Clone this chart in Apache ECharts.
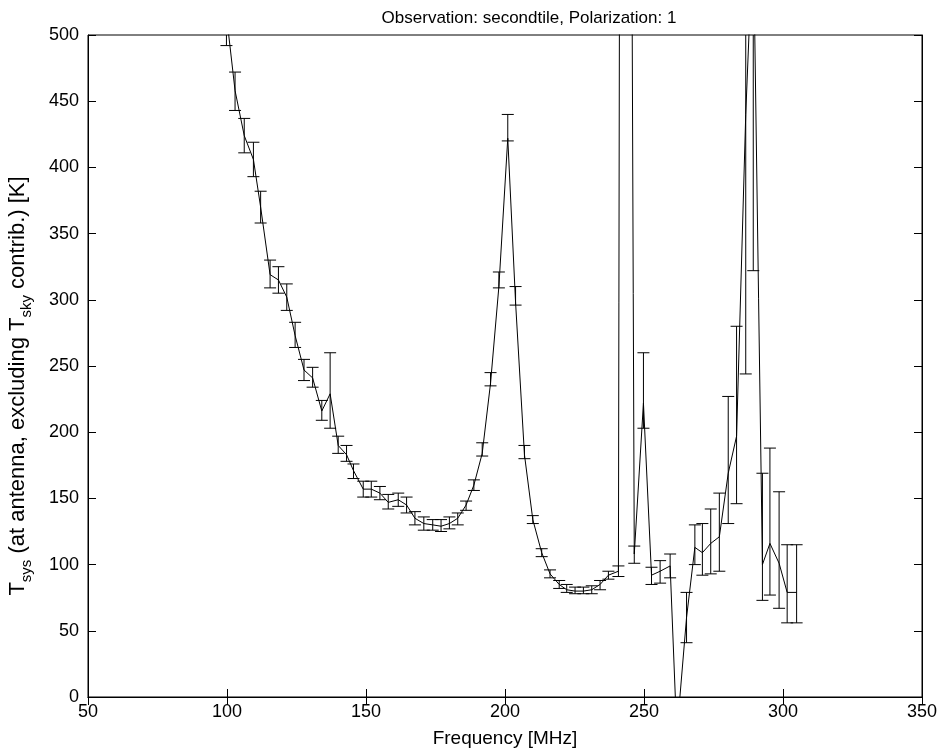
<!DOCTYPE html>
<html>
<head>
<meta charset="utf-8">
<script src="https://cdn.jsdelivr.net/npm/echarts@6/dist/echarts.min.js"></script>
<style>
html,body{margin:0;padding:0;background:#fff;}
#chart{width:943px;height:754px;}
</style>
</head>
<body>
<div id="chart"></div>
<script>
// Frequency channels [MHz]
var freq = [99.8, 102.9, 106.2, 109.5, 112.1, 115.5, 118.5, 121.5, 124.5, 127.7, 130.8, 134.1, 137.1, 140.0, 143.0, 145.5, 149.0, 151.9, 155.0, 158.0, 161.6, 164.6, 167.6, 170.8, 174.0, 177.0, 180.0, 183.0, 186.0, 188.8, 191.8, 194.8, 197.8, 201.0, 203.8, 207.0, 210.0, 213.2, 216.2, 219.5, 222.2, 225.2, 228.2, 231.2, 234.2, 237.2, 240.8, 242.6, 246.5, 249.8, 252.7, 255.8, 259.4, 261.8, 265.3, 268.3, 271.0, 274.0, 277.1, 280.3, 283.3, 286.6, 289.3, 292.6, 295.3, 298.6, 301.5, 304.9];
// Tsys values [K]
var tsys = [515, 458, 424, 406, 370, 319, 315, 302, 273, 247, 241, 216, 229, 190, 183, 171, 157, 157, 154, 147, 149, 145, 135, 131, 130, 129, 131, 135, 145, 160, 184, 237, 310, 422, 298, 183, 134, 109, 93, 85, 81, 80, 80, 81, 85, 92, 95, 2200, 108, 222, 92, 95, 99, -28, 60, 113, 109, 116, 121, 169, 197, 440, 580, 100, 116, 101, 79, 79];
// error bar lower ends [K]
var errLow = [492, 443, 411, 393, 358, 309, 305, 292, 264, 239, 234, 209, 203, 184, 178, 165, 151, 151, 149, 142, 144, 139, 130, 126, 126, 125, 127, 130, 141, 156, 182, 235, 309, 420, 296, 180, 131, 106, 90, 82, 79, 78, 78, 78, 81, 89, 91, 2000, 101, 203, 85, 86, 90, -40, 41, 100, 92, 93, 95, 131, 146, 244, 322, 73, 77, 67, 56, 56];
// error bar upper ends [K]
var errHigh = [540, 472, 437, 419, 382, 330, 325, 312, 283, 255, 249, 224, 260, 197, 190, 176, 163, 163, 159, 153, 154, 151, 140, 136, 134, 134, 136, 139, 148, 164, 192, 245, 321, 440, 310, 190, 137, 112, 96, 88, 85, 83, 83, 84, 88, 95, 99, 2400, 114, 260, 98, 103, 108, -15, 79, 130, 131, 142, 154, 227, 280, 636, 838, 169, 188, 155, 115, 115];

var xTicks = [50, 350, 50];   // min, max, step
var yTicks = [0, 500, 50];

var lineData = freq.map(function (f, i) { return [f, tsys[i]]; });
var errData = freq.map(function (f, i) { return [f, errLow[i], errHigh[i]]; });

var font = 'Liberation Sans, Arial, sans-serif';
var chart = echarts.init(document.getElementById('chart'), null, {renderer: 'canvas'});

var axisCommon = {
  axisLine: {show: true, lineStyle: {color: '#000', width: 1}},
  axisTick: {show: true, inside: true, length: 8, lineStyle: {color: '#000', width: 1}},
  splitLine: {show: false}
};

chart.setOption({
  animation: false,
  backgroundColor: '#fff',
  title: {
    text: 'Observation: secondtile, Polarization: 1',
    left: 524, top: 5, textAlign: 'center',
    textStyle: {fontFamily: font, fontSize: 17, fontWeight: 'normal', color: '#000'}
  },
  grid: {left: 88, right: 21, top: 35, bottom: 57, containLabel: false, outerBoundsMode: 'none',
         show: true, borderColor: '#000', borderWidth: 1, backgroundColor: '#fff'},
  xAxis: [
    Object.assign({
      type: 'value', min: xTicks[0], max: xTicks[1], interval: xTicks[2], position: 'bottom',
      name: 'Frequency [MHz]', nameLocation: 'middle', nameGap: 32,
      nameTextStyle: {fontFamily: font, fontSize: 19, color: '#000'},
      axisLabel: {fontFamily: font, fontSize: 18, color: '#000', margin: 6}
    }, axisCommon),
    Object.assign({
      type: 'value', min: xTicks[0], max: xTicks[1], interval: xTicks[2], position: 'top',
      axisLabel: {show: false}
    }, axisCommon)
  ],
  yAxis: [
    Object.assign({
      type: 'value', min: yTicks[0], max: yTicks[1], interval: yTicks[2], position: 'left',
      name: '{a|T}{s|sys}{a| (at antenna, excluding T}{s|sky}{a| contrib.) [K]}',
      nameLocation: 'middle', nameGap: 54, nameRotate: 90,
      nameTextStyle: {
        fontFamily: font, color: '#000', padding: [0, 40, 0, 0],
        rich: {
          a: {fontFamily: font, fontSize: 22, color: '#000', lineHeight: 32, verticalAlign: 'middle'},
          s: {fontFamily: font, fontSize: 15, color: '#000', lineHeight: 32, verticalAlign: 'bottom'}
        }
      },
      axisLabel: {fontFamily: font, fontSize: 18, color: '#000', margin: 9}
    }, axisCommon),
    Object.assign({
      type: 'value', min: yTicks[0], max: yTicks[1], interval: yTicks[2], position: 'right',
      axisLabel: {show: false}
    }, axisCommon)
  ],
  series: [
    {
      type: 'line', xAxisIndex: 0, yAxisIndex: 0,
      data: lineData, symbol: 'none', clip: true,
      lineStyle: {color: '#000', width: 1}
    },
    {
      type: 'custom', xAxisIndex: 0, yAxisIndex: 0, clip: true,
      data: errData,
      encode: {x: 0, y: [1, 2]},
      renderItem: function (params, api) {
        var x = api.value(0), lo = api.value(1), hi = api.value(2);
        var pHi = api.coord([x, hi]);
        var pLo = api.coord([x, lo]);
        var hw = 6;
        var st = {stroke: '#000', lineWidth: 1, fill: null};
        return {
          type: 'group',
          children: [
            {type: 'line', shape: {x1: pHi[0], y1: pHi[1], x2: pLo[0], y2: pLo[1]}, style: st},
            {type: 'line', shape: {x1: pHi[0] - hw, y1: pHi[1], x2: pHi[0] + hw, y2: pHi[1]}, style: st},
            {type: 'line', shape: {x1: pLo[0] - hw, y1: pLo[1], x2: pLo[0] + hw, y2: pLo[1]}, style: st}
          ]
        };
      }
    }
  ]
});
</script>
</body>
</html>
